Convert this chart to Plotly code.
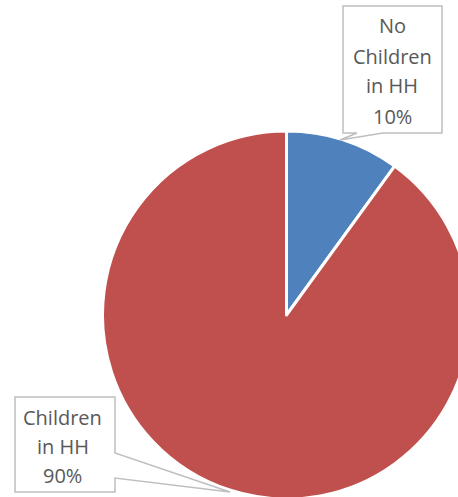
import plotly.graph_objects as go

# Share of households with / without children
categories = ["No Children in HH", "Children in HH"]
shares = [10, 90]
colors = ["#4F81BD", "#C0504D"]

W, H = 474, 502


def px(x):
    return x / W


def py(y):
    return 1 - y / H


fig = go.Figure()
fig.add_trace(go.Pie(
    labels=categories,
    values=shares,
    sort=False,
    direction="clockwise",
    rotation=0,
    textinfo="none",
    marker=dict(colors=colors, line=dict(color="white", width=3)),
    domain=dict(x=[px(102.5), px(470.5)], y=[py(499), py(131)]),
    showlegend=False,
))


def path_from(points):
    d = "M " + " L ".join(f"{px(x):.5f},{py(y):.5f}" for x, y in points) + " Z"
    return d


# callout outlines (box + pointer towards the slice)
callouts = [
    [(343, 6), (442, 6), (442, 133), (383, 133), (340, 140), (357, 133), (343, 133)],
    [(15, 397), (115, 397), (115, 453), (230, 492), (115, 478), (115, 492), (15, 492)],
]
shapes = [
    dict(type="path", xref="paper", yref="paper", path=path_from(c),
         fillcolor="white", line=dict(color="#BFBFBF", width=1.5), layer="above")
    for c in callouts
]

# label lines: category name wrapped, then the percentage
label_lines = [
    ["No", "Children", "in HH", f"{shares[0]}%"],
    ["Children", "in HH", f"{shares[1]}%"],
]
label_pos = [(392, 26, 30), (63, 417, 29)]  # centre x, first line centre y, pitch

annotations = []
for lines, (cx, cy, pitch) in zip(label_lines, label_pos):
    for i, t in enumerate(lines):
        annotations.append(dict(
            x=px(cx), y=py(cy + i * pitch), xref="paper", yref="paper",
            text=t, showarrow=False, xanchor="center", yanchor="middle",
            font=dict(family="Open Sans", size=20, color="#595959"),
        ))

fig.update_layout(
    width=W, height=H,
    margin=dict(l=0, r=0, t=0, b=0),
    paper_bgcolor="white", plot_bgcolor="white",
    shapes=shapes, annotations=annotations,
)

fig.write_html("out.html", post_script="document.body.style.overflow='hidden';")
